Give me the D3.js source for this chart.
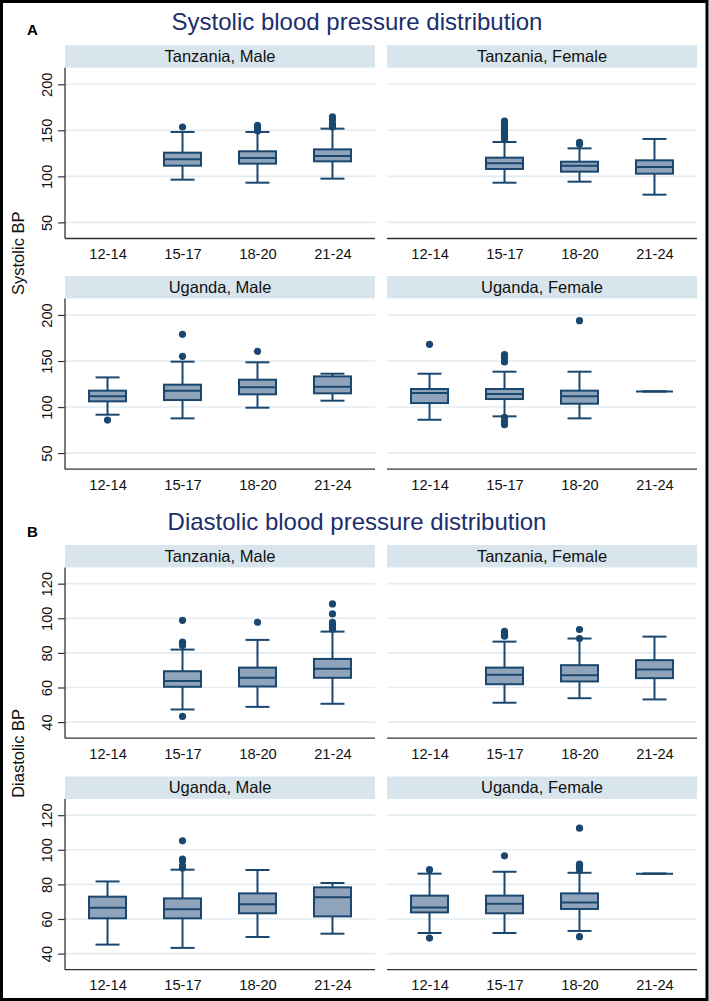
<!DOCTYPE html>
<html>
<head>
<meta charset="utf-8">
<script src="https://cdn.jsdelivr.net/npm/d3@7/dist/d3.min.js"></script>
<style>
  html, body { margin: 0; padding: 0; background: #fff; }
  svg { display: block; font-family: "Liberation Sans", Arial, sans-serif; }
</style>
</head>
<body>
<svg id="chart" width="709" height="1001"></svg>
<script>
// ---------------- DATA ----------------
const ageGroups = ["12-14", "15-17", "18-20", "21-24"];
const panelTitles = ["Tanzania, Male", "Tanzania, Female", "Uganda, Male", "Uganda, Female"];
const sysTicks = [50, 100, 150, 200];
const diaTicks = [40, 60, 80, 100, 120];

// box stats per age group: [lower whisker, Q1, median, Q3, upper whisker]; null = no data
const sysTzMale   = [null, [96.4, 111.6, 118.5, 125.7, 148.2], [93.1, 113.8, 119.9, 127.2, 148.2], [97.5, 116.3, 122.1, 129.3, 151.8]];
const sysTzFemale = [null, [93.1, 108.0, 114.1, 120.3, 137.3], [94.2, 105.1, 111.6, 115.9, 130.4], [80.1, 102.9, 110.1, 117.4, 140.6]];
const sysUgMale   = [[91.7, 106.2, 111.6, 117.8, 132.2], [87.7, 107.6, 117.8, 124.3, 149.3], [99.3, 113.8, 121.4, 129.7, 148.6], [106.9, 114.9, 122.1, 133.3, 136.2]];
const sysUgFemale = [[86.2, 104.3, 115.2, 119.6, 136.2], [89.9, 108.7, 114.1, 119.6, 138.4], [87.7, 103.6, 111.6, 117.8, 138.4], [117.0, 117.0, 117.0, 117.0, 117.0]];

const sysTzMaleOut   = [[], [153.6], [155.4, 152.5, 149.3], [164.5, 161.6, 157.2, 155.0, 153.6]];
const sysTzFemaleOut = [[], [160.1, 157.5, 155.4, 151.8, 148.2, 145.5, 143.5, 140.2], [137.0, 134.8], []];
const sysUgMaleOut   = [[85.9], [179.0, 155.1], [160.5], []];
const sysUgFemaleOut = [[168.1], [156.9, 153.3, 148.9, 88.8, 84.4, 80.8], [193.8], []];

const diaTzMale   = [null, [47.3, 60.4, 63.7, 69.4, 81.9], [48.8, 60.6, 65.6, 71.5, 87.5], [50.6, 65.6, 70.8, 76.5, 92.3]];
const diaTzFemale = [null, [51.2, 61.9, 67.3, 71.5, 86.5], [53.8, 63.5, 67.1, 72.9, 88.3], [53.1, 65.4, 70.4, 75.8, 89.4]];
const diaUgMale   = [[45.2, 60.4, 66.5, 72.9, 81.7], [43.3, 60.4, 65.6, 71.9, 88.5], [49.6, 63.3, 68.5, 74.8, 88.3], [51.5, 61.5, 72.5, 78.3, 80.8]];
const diaUgFemale = [[51.9, 63.8, 66.7, 73.5, 86.2], [51.9, 63.3, 68.8, 73.5, 87.3], [53.1, 65.8, 69.6, 74.8, 86.7], [86.2, 86.2, 86.2, 86.2, 86.2]];

const diaTzMaleOut   = [[], [98.8, 86.3, 85.4, 84.2, 43.3], [97.7], [108.3, 102.5, 97.7, 96.3, 94.8, 93.8]];
const diaTzFemaleOut = [[], [92.5, 91.2, 90.2, 89.6], [93.5, 88.3], []];
const diaUgMaleOut   = [[], [105.2, 94.6, 93.7, 90.8, 89.4], [], []];
const diaUgFemaleOut = [[88.5, 49.0], [96.5], [112.5, 91.7, 90.4, 88.5, 49.8], []];

// ---------------- LAYOUT ----------------
const svg = d3.select("#chart");
const W = 709, H = 1001;
const navy = "#1a476f", boxFill = "#8fa4bb", stripFill = "#d9e5ec", gridCol = "#e3ecf1";
const colX = [65, 387], panelW = 310;
const stripH = 22.4, plotH = 170.8;

const sections = [
  { letter: "A", letterY: 35, title: "Systolic blood pressure distribution", titleY: 30,
    ylabel: "Systolic BP", rowTops: [45.3, 276], domain: [32.5, 218], ticks: sysTicks,
    boxes: [sysTzMale, sysTzFemale, sysUgMale, sysUgFemale],
    outs: [sysTzMaleOut, sysTzFemaleOut, sysUgMaleOut, sysUgFemaleOut] },
  { letter: "B", letterY: 537, title: "Diastolic blood pressure distribution", titleY: 529.5,
    ylabel: "Diastolic BP", rowTops: [545, 776.5], domain: [30.7, 129.4], ticks: diaTicks,
    boxes: [diaTzMale, diaTzFemale, diaUgMale, diaUgFemale],
    outs: [diaTzMaleOut, diaTzFemaleOut, diaUgMaleOut, diaUgFemaleOut] }
];

sections.forEach(sec => {
  svg.append("text").attr("x", 27).attr("y", sec.letterY)
    .attr("font-size", 15).attr("font-weight", "bold").attr("fill", "#000").text(sec.letter);
  svg.append("text").attr("x", 357).attr("y", sec.titleY).attr("text-anchor", "middle")
    .attr("font-size", 24).attr("fill", "#1c2e6e").text(sec.title);
  const yMid = (sec.rowTops[0] + sec.rowTops[1] + stripH + plotH) / 2 - 4;
  svg.append("text").attr("transform", `translate(24,${yMid}) rotate(-90)`)
    .attr("text-anchor", "middle").attr("font-size", 16.5).attr("fill", "#111").text(sec.ylabel);

  panelTitles.forEach((pt, pi) => {
    const col = pi % 2, row = Math.floor(pi / 2);
    const x0 = colX[col], top = sec.rowTops[row];
    const pTop = top + stripH, pBot = pTop + plotH;
    const g = svg.append("g");
    const x = d3.scalePoint().domain(ageGroups).range([x0, x0 + panelW]).padding(0.567);
    const y = d3.scaleLinear().domain(sec.domain).range([pBot, pTop]);

    // strip
    g.append("rect").attr("x", x0).attr("y", top).attr("width", panelW).attr("height", stripH).attr("fill", stripFill);
    g.append("text").attr("x", x0 + panelW / 2).attr("y", top + 16.6).attr("text-anchor", "middle")
      .attr("font-size", 16.5).attr("fill", "#111").text(pt);

    // grid
    g.selectAll("line.grid").data(sec.ticks).enter().append("line")
      .attr("x1", x0).attr("x2", x0 + panelW).attr("y1", d => y(d)).attr("y2", d => y(d))
      .attr("stroke", gridCol).attr("stroke-width", 1.6);

    // y axis (only left column)
    if (col === 0) {
      const ax = g.append("g").attr("transform", `translate(${x0},0)`)
        .call(d3.axisLeft(y).tickValues(sec.ticks).tickSize(7).tickPadding(0).tickFormat(d3.format("d")));
      ax.select(".domain").remove();
      ax.selectAll(".tick line").attr("stroke", "#333").attr("stroke-width", 1.2);
      ax.selectAll(".tick text").attr("font-size", 14.7).attr("fill", "#111")
        .attr("font-family", "Liberation Sans, Arial, sans-serif")
        .attr("x", 0).attr("dy", 0).attr("text-anchor", "middle")
        .attr("transform", "translate(-13,0) rotate(-90)");
      g.append("line").attr("x1", x0).attr("x2", x0).attr("y1", pTop).attr("y2", pBot)
        .attr("stroke", "#333").attr("stroke-width", 1.3);
    }
    // x axis
    const xa = g.append("g").attr("transform", `translate(0,${pBot})`)
      .call(d3.axisBottom(x).tickSize(0).tickPadding(0));
    xa.select(".domain").attr("stroke", "#333").attr("stroke-width", 1.3)
      .attr("d", `M${x0},0H${x0 + panelW}`);
    xa.selectAll(".tick text").attr("font-size", 14.7).attr("fill", "#111")
      .attr("font-family", "Liberation Sans, Arial, sans-serif").attr("dy", 0).attr("y", 20.7);

    // boxes
    const bw = 37, cw = 24;
    const stats = sec.boxes[pi];
    stats.forEach((s, i) => {
      if (!s) return;
      const cx = x(ageGroups[i]);
      const [lo, q1, md, q3, hi] = s;
      g.append("line").attr("x1", cx).attr("x2", cx).attr("y1", y(hi)).attr("y2", y(q3)).attr("stroke", navy).attr("stroke-width", 2);
      g.append("line").attr("x1", cx).attr("x2", cx).attr("y1", y(q1)).attr("y2", y(lo)).attr("stroke", navy).attr("stroke-width", 2);
      g.append("line").attr("x1", cx - cw / 2).attr("x2", cx + cw / 2).attr("y1", y(hi)).attr("y2", y(hi)).attr("stroke", navy).attr("stroke-width", 2);
      g.append("line").attr("x1", cx - cw / 2).attr("x2", cx + cw / 2).attr("y1", y(lo)).attr("y2", y(lo)).attr("stroke", navy).attr("stroke-width", 2);
      g.append("rect").attr("x", cx - bw / 2).attr("y", y(q3)).attr("width", bw).attr("height", Math.max(0, y(q1) - y(q3)))
        .attr("fill", boxFill).attr("stroke", navy).attr("stroke-width", 2);
      g.append("line").attr("x1", cx - bw / 2).attr("x2", cx + bw / 2).attr("y1", y(md)).attr("y2", y(md)).attr("stroke", navy).attr("stroke-width", 2);
    });
    sec.outs[pi].forEach((arr, i) => {
      const cx = x(ageGroups[i]);
      g.selectAll(null).data(arr).enter().append("circle")
        .attr("cx", cx).attr("cy", d => y(d)).attr("r", 3.6).attr("fill", navy);
    });
  });
});

// outer frame
svg.append("rect").attr("x", 1.5).attr("y", 1.5).attr("width", W - 3.5).attr("height", H - 3)
  .attr("fill", "none").attr("stroke", "#000").attr("stroke-width", 3);
</script>
</body>
</html>
